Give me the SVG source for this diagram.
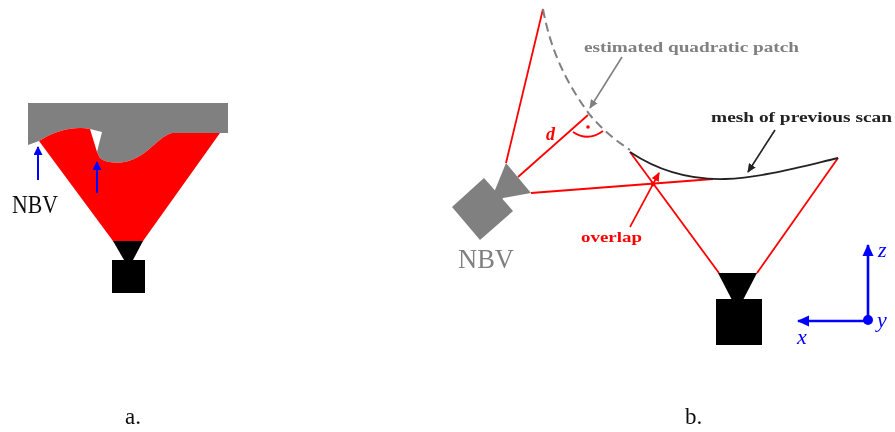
<svg xmlns="http://www.w3.org/2000/svg" width="895" height="432" viewBox="0 0 895 432">
<style>
text{font-family:"Liberation Serif",serif}
.r{fill:none;stroke:#f00;stroke-width:1.8}
.b{fill:none;stroke:#00f;stroke-width:2}
.a{fill:none;stroke:#00f;stroke-width:2.6}
.lbl{font-size:15px;font-weight:bold}
</style>
<defs>
<filter id="s" x="-5%" y="-5%" width="110%" height="110%"><feGaussianBlur stdDeviation="0.5"/></filter>
<marker id="ab" markerWidth="9" markerHeight="9" refX="8" refY="4.5" orient="auto" markerUnits="userSpaceOnUse"><path d="M0 0L9 4.5L0 9Z" fill="#00f"/></marker>
<marker id="abl" markerWidth="12" markerHeight="12" refX="11" refY="6" orient="auto" markerUnits="userSpaceOnUse"><path d="M0 0.5L12 6L0 11.5Z" fill="#00f"/></marker>
<marker id="ag" markerWidth="9" markerHeight="8" refX="8" refY="4" orient="auto" markerUnits="userSpaceOnUse"><path d="M0 0L9 4L0 8Z" fill="#808080"/></marker>
<marker id="ak" markerWidth="9" markerHeight="8" refX="8" refY="4" orient="auto" markerUnits="userSpaceOnUse"><path d="M0 0L9 4L0 8Z" fill="#222"/></marker>
<marker id="ar" markerWidth="9" markerHeight="8" refX="8" refY="4" orient="auto" markerUnits="userSpaceOnUse"><path d="M0 0L9 4L0 8Z" fill="#f00"/></marker>
</defs>
<rect width="895" height="432" fill="#fff"/>
<g filter="url(#s)">
<g id="surface-a">
<path d="M28 103H228V133H220H172C160 136 150 152 134 159C124 164 106 164 100 158L97 152L102 132L90 129C76 126 56 130 39 141L28 145Z" fill="#808080"/>
</g>
<g id="scan-a">
<path d="M39 141C56 130 76 126 90 129L97 152L100 158C106 164 124 164 134 159C150 152 160 136 172 133H220L143 241H113Z" fill="#f00"/>
</g>
<g id="camera-a">
<path d="M113 241H143L133 260H124Z" fill="#000"/>
<rect x="112" y="260" width="33" height="33" fill="#000"/>
</g>
<g id="scan-b-lines">
<path class="r" d="M506 163L543 9"/>
<path class="r" d="M518 177L588 115"/>
<path class="r" d="M531 193L713 179"/>
<path class="r" d="M630 152L719 273"/>
<path class="r" d="M838 158L757 273"/>
<path class="r" d="M573 132Q588 142 603 131"/>
<circle cx="588" cy="127" r="1.8" fill="#f00"/>
<circle cx="653" cy="184" r="2.4" fill="#f00"/>
</g>
<g id="patch">
<path d="M543 9C552 60 575 95 590 115C600 127 612 138 630 150" fill="none" stroke="#808080" stroke-width="2" stroke-dasharray="9 5"/>
</g>
<g id="mesh">
<path d="M630 152C660 172 690 180 725 179C760 178 800 167 838 158" fill="none" stroke="#222" stroke-width="1.8"/>
</g>
<g id="camera-nbv">
<path d="M506 163L531 193L503 198L500 204L492 194L495 190Z" fill="#808080"/>
<path d="M484 178L513 211L480 240L452 207Z" fill="#808080"/>
</g>
<g id="camera-b">
<path d="M718 273H757L743 300H732Z" fill="#000"/>
<rect x="716" y="299" width="46" height="46" fill="#000"/>
</g>
<g id="connectors">
<path class="b" d="M38 180V147" marker-end="url(#ab)"/>
<path class="b" d="M97 193V162" marker-end="url(#ab)"/>
<path d="M622 57L590 108" fill="none" stroke="#808080" stroke-width="1.6" marker-end="url(#ag)"/>
<path d="M775 130L748 172" fill="none" stroke="#222" stroke-width="1.6" marker-end="url(#ak)"/>
<path d="M630 227L659 173" fill="none" stroke="#f00" stroke-width="1.6" marker-end="url(#ar)"/>
<path class="a" d="M868 320V245" marker-end="url(#abl)"/>
<path class="a" d="M868 321H798" marker-end="url(#abl)"/>
<circle cx="868" cy="320" r="5" fill="#00f"/>
</g>
<g id="labels">
<text x="12" y="213" font-size="25" fill="#111" textLength="46" lengthAdjust="spacingAndGlyphs">NBV</text>
<text x="458" y="268" font-size="26.5" fill="#808080">NBV</text>
<text x="584" y="52" class="lbl" fill="#808080" textLength="215" lengthAdjust="spacingAndGlyphs">estimated quadratic patch</text>
<text x="711" y="122" class="lbl" fill="#222" textLength="181" lengthAdjust="spacingAndGlyphs">mesh of previous scan</text>
<text x="581" y="242" class="lbl" fill="#f00" textLength="61" lengthAdjust="spacingAndGlyphs">overlap</text>
<text x="546" y="140" font-size="18" font-style="italic" font-weight="bold" fill="#f00">d</text>
<text x="797" y="344" font-size="22" font-style="italic" fill="#00f">x</text>
<text x="877" y="327" font-size="22" font-style="italic" fill="#00f">y</text>
<text x="878" y="257" font-size="22" font-style="italic" fill="#00f">z</text>
<text x="125" y="424" font-size="23" fill="#111">a.</text>
<text x="685" y="424" font-size="23" fill="#111">b.</text>
</g>
</g>
</svg>
